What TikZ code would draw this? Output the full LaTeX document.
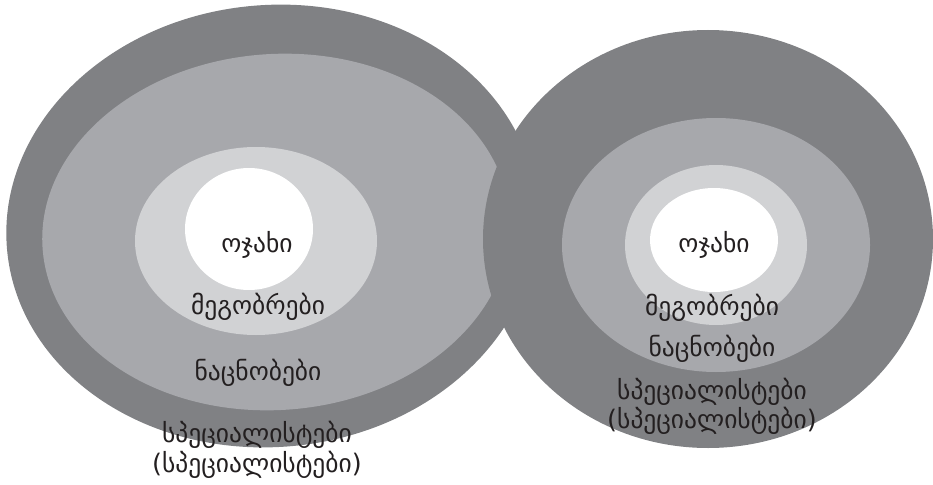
\documentclass[tikz,border=0pt]{standalone}
\usepackage{fontspec}
\setmainfont{DejaVu Sans}
\definecolor{ringA}{RGB}{128,129,132}
\definecolor{ringB}{RGB}{167,168,172}
\definecolor{ringC}{RGB}{209,210,212}
\definecolor{txt}{RGB}{35,31,32}
\begin{document}
\begin{tikzpicture}[x=1pt,y=-1pt,
  lbl/.style={text=txt,font=\fontsize{25.5}{30}\selectfont,inner sep=0pt,align=center}]
\useasboundingbox (0,0) rectangle (933,484);
% left set
\fill[ringA,rotate around={5:(272,226)}] (272,226) ellipse [x radius=266pt, y radius=221pt];
\fill[ringB,rotate around={4:(276,232)}] (276,232) ellipse [x radius=234pt, y radius=178pt];
\fill[ringC] (256,241) ellipse [x radius=121pt, y radius=94pt];
\fill[white] (249,229) ellipse [x radius=64pt, y radius=61pt];
% right set
\fill[ringA] (708,239) ellipse [x radius=225pt, y radius=209pt];
\fill[ringB] (716,245) ellipse [x radius=154pt, y radius=127pt];
\fill[ringC] (716,245) ellipse [x radius=91pt, y radius=80pt];
\fill[white] (714,240) ellipse [x radius=64pt, y radius=52pt];
% labels left
\node[lbl] (l1) at (257,245) {ოჯახი};
\node[lbl] (l2) at (258,307) {მეგობრები};
\node[lbl] (l3) at (258,373) {ნაცნობები};
\node[lbl] (l4) at (257,435) {სპეციალისტები};
\node[lbl] (l5) at (257,465) {(სპეციალისტები)};
% labels right
\node[lbl] (r1) at (714,245) {ოჯახი};
\node[lbl] (r2) at (712,308) {მეგობრები};
\node[lbl] (r3) at (712,349) {ნაცნობები};
\node[lbl] (r4) at (712,392) {სპეციალისტები};
\node[lbl] (r5) at (712,421) {(სპეციალისტები)};
\end{tikzpicture}
\end{document}
